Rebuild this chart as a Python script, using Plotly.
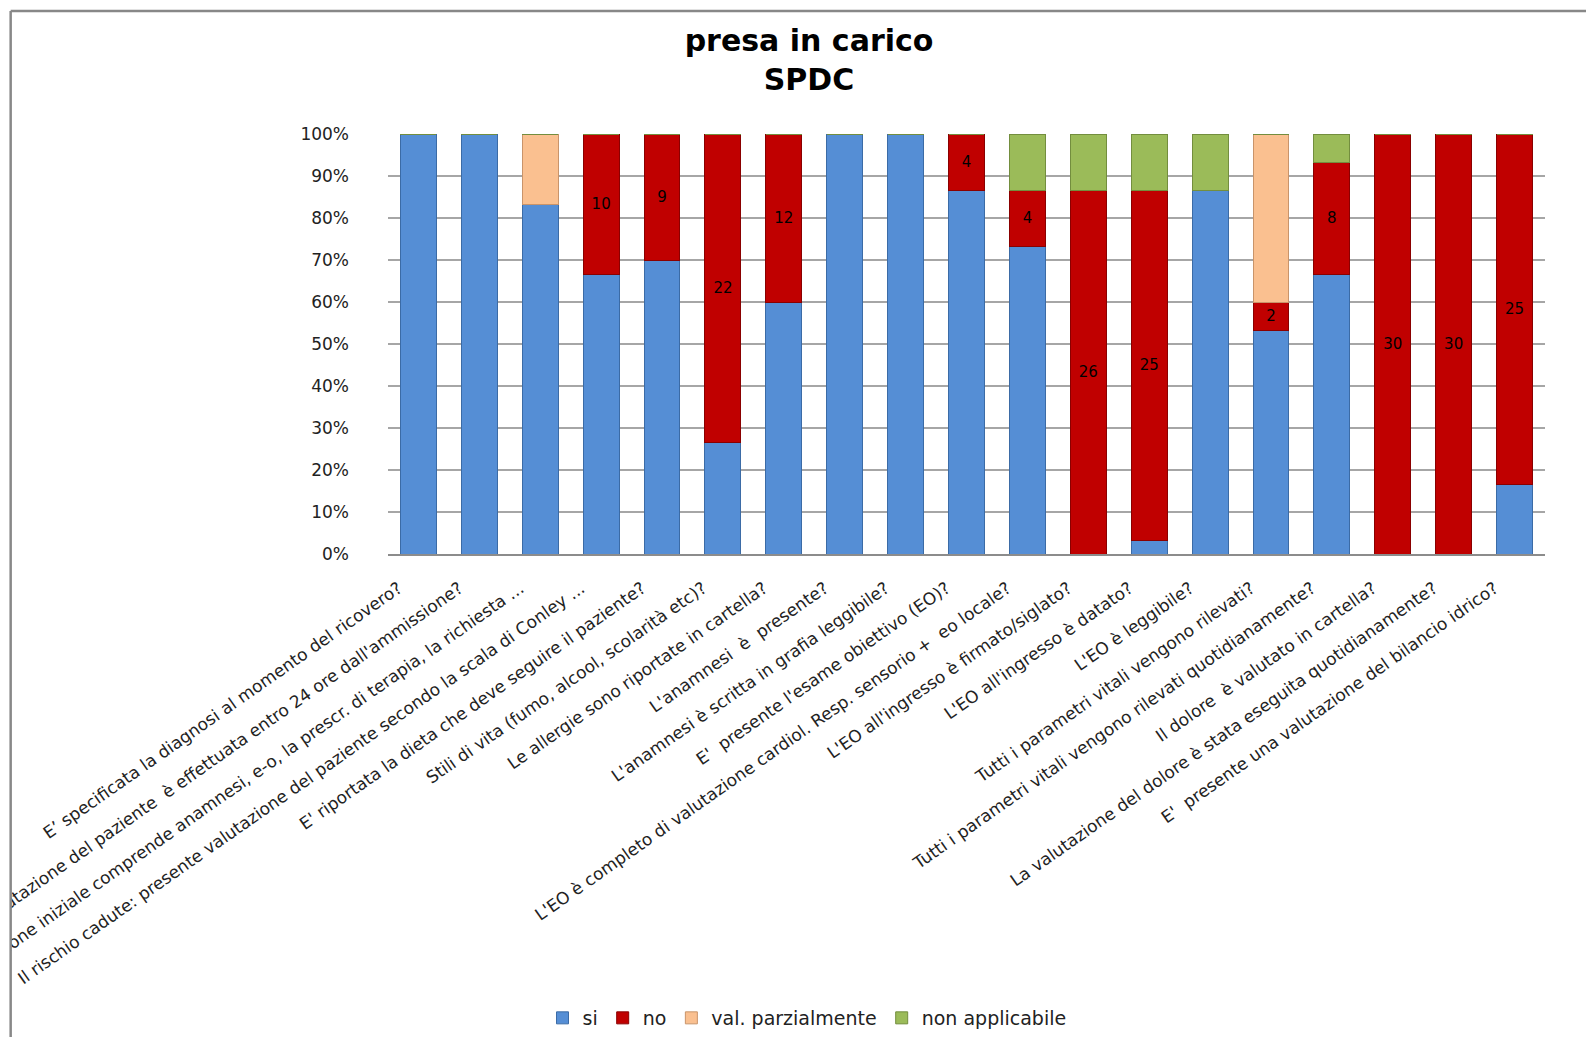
import plotly.graph_objects as go

categories = [
    "E’ specificata la diagnosi al momento del ricovero?",
    "La valutazione del paziente  è effettuata entro 24 ore dall'ammissione?",
    "La valutazione iniziale comprende anamnesi, e-o, la prescr. di terapia, la richiesta ...",
    "Il rischio cadute: presente valutazione del paziente secondo la scala di Conley ...",
    "E' riportata la dieta che deve seguire il paziente?",
    "Stili di vita (fumo, alcool, scolarità etc)?",
    "Le allergie sono riportate in cartella?",
    "L'anamnesi  è  presente?",
    "L'anamnesi è scritta in grafia leggibile?",
    "E'  presente l'esame obiettivo (EO)?",
    "L'EO è completo di valutazione cardiol. Resp. sensorio +  eo locale?",
    "L'EO all'ingresso è firmato/siglato?",
    "L'EO all'ingresso è datato?",
    "L'EO è leggibile?",
    "Tutti i parametri vitali vengono rilevati?",
    "Tutti i parametri vitali vengono rilevati quotidianamente?",
    "Il dolore  è valutato in cartella?",
    "La valutazione del dolore è stata eseguita quotidianamente?",
    "E'  presente una valutazione del bilancio idrico?",
]

si = [30, 30, 25, 20, 21, 8, 18, 30, 30, 26, 22, 0, 1, 26, 16, 20, 0, 0, 5]
no = [0, 0, 0, 10, 9, 22, 12, 0, 0, 4, 4, 26, 25, 0, 2, 8, 30, 30, 25]
val_parz = [0, 0, 5, 0, 0, 0, 0, 0, 0, 0, 0, 0, 0, 0, 12, 0, 0, 0, 0]
non_appl = [0, 0, 0, 0, 0, 0, 0, 0, 0, 0, 4, 4, 4, 4, 0, 2, 0, 0, 0]

series_names = ["si", "no", "val. parzialmente", "non applicabile"]
y_ticks = [0, 10, 20, 30, 40, 50, 60, 70, 80, 90, 100]
y_tick_labels = [f"{v}%" for v in y_ticks]

W, H = 1586, 1037
L, R, T, B = 387.5, 1545, 134, 554
FONT = "DejaVu Sans"


def px_x(p):
    return (p - L) / (R - L)


def px_y(p):
    return (B - p) / (B - T)


fig = go.Figure()
fill = ["#558ED5", "#C00000", "#FAC090", "#9BBB59"]
edge = ["#3B6BA6", "#8A0000", "#C9946A", "#738E3E"]
for name, vals, c, e in zip(series_names, [si, no, val_parz, non_appl], fill, edge):
    kw = {}
    if name == "no":
        kw = dict(
            text=[str(v) if v else "" for v in vals],
            textposition="inside",
            insidetextanchor="middle",
            textangle=0,
            textfont=dict(family=FONT, size=15, color="#000000"),
            constraintext="none",
        )
    fig.add_trace(go.Bar(
        x=categories, y=vals, name=name,
        marker=dict(color=c, line=dict(color=e, width=1)),
        **kw,
    ))

fig.update_layout(
    width=W, height=H,
    barmode="stack", barnorm="percent", bargap=0.41,
    plot_bgcolor="white", paper_bgcolor="white",
    margin=dict(l=L, r=W - R, t=T, b=H - B, autoexpand=False),
    title=dict(
        text="<b>presa in carico<br>SPDC</b>",
        x=809 / W, xref="container", xanchor="center",
        y=1 - 51 / H, yref="container", yanchor="top",
        font=dict(family=FONT, size=30, color="#000000"),
    ),
    legend=dict(
        orientation="h", traceorder="normal",
        x=807 / W, xref="container", xanchor="center",
        y=1 - 1018 / H, yref="container", yanchor="middle",
        font=dict(family=FONT, size=19, color="#222222"),
        itemwidth=30,
    ),
    showlegend=True,
    font=dict(family=FONT, color="#222222"),
)

fig.update_yaxes(
    range=[0, 100], tickvals=y_ticks, ticktext=y_tick_labels,
    showgrid=True, gridcolor="#A6A6A6", gridwidth=1.5,
    zeroline=False, showline=False,
    ticks="", ticklabelstandoff=38,
    tickfont=dict(family=FONT, size=17, color="#222222"),
)
fig.update_xaxes(
    tickangle=-35, showgrid=False,
    showline=True, linecolor="#8C8C8C", linewidth=2,
    tickfont=dict(family=FONT, size=17, color="#222222"),
    ticks="", automargin=False,
    ticklabelshift=-20, ticklabelstandoff=16,
)

# chart frame: clip area on the left and draw the border
fig.add_shape(type="rect", xref="paper", yref="paper",
              x0=px_x(-5), x1=px_x(10), y0=px_y(H + 5), y1=px_y(-5),
              fillcolor="white", line=dict(width=0), layer="above")
fig.add_shape(type="line", xref="paper", yref="paper",
              x0=px_x(10), x1=px_x(10), y0=px_y(H + 5), y1=px_y(11),
              line=dict(color="#888888", width=2.5), layer="above")
fig.add_shape(type="line", xref="paper", yref="paper",
              x0=px_x(10), x1=px_x(W + 5), y0=px_y(11), y1=px_y(11),
              line=dict(color="#888888", width=2.5), layer="above")

fig.write_html("out.html", config={"displayModeBar": False},
               post_script="document.body.style.margin='0';")
